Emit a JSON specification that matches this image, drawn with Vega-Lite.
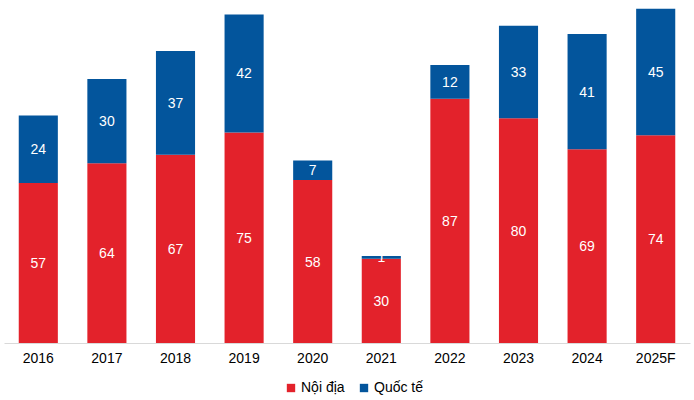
{
  "$schema": "https://vega.github.io/schema/vega-lite/v6.json",
  "width": 686,
  "height": 337,
  "autosize": {"type": "none"},
  "padding": {"left": 4, "top": 6, "right": 4, "bottom": 57},
  "background": "white",
  "config": {
    "view": {"stroke": null},
    "font": "Liberation Sans"
  },
  "data": {
    "values": [
      {"year": "2016", "type": "Nội địa", "value": 57},
      {"year": "2016", "type": "Quốc tế", "value": 24},
      {"year": "2017", "type": "Nội địa", "value": 64},
      {"year": "2017", "type": "Quốc tế", "value": 30},
      {"year": "2018", "type": "Nội địa", "value": 67},
      {"year": "2018", "type": "Quốc tế", "value": 37},
      {"year": "2019", "type": "Nội địa", "value": 75},
      {"year": "2019", "type": "Quốc tế", "value": 42},
      {"year": "2020", "type": "Nội địa", "value": 58},
      {"year": "2020", "type": "Quốc tế", "value": 7},
      {"year": "2021", "type": "Nội địa", "value": 30},
      {"year": "2021", "type": "Quốc tế", "value": 1},
      {"year": "2022", "type": "Nội địa", "value": 87},
      {"year": "2022", "type": "Quốc tế", "value": 12},
      {"year": "2023", "type": "Nội địa", "value": 80},
      {"year": "2023", "type": "Quốc tế", "value": 33},
      {"year": "2024", "type": "Nội địa", "value": 69},
      {"year": "2024", "type": "Quốc tế", "value": 41},
      {"year": "2025F", "type": "Nội địa", "value": 74},
      {"year": "2025F", "type": "Quốc tế", "value": 45}
    ]
  },
  "encoding": {
    "x": {
      "field": "year",
      "type": "nominal",
      "scale": {"paddingInner": 0.43, "paddingOuter": 0.215},
      "axis": {
        "title": null,
        "labelAngle": 0,
        "labelFontSize": 14,
        "labelColor": "#000000",
        "labelPadding": 8,
        "ticks": false,
        "domainColor": "#D9D9D9",
        "domainWidth": 1
      }
    }
  },
  "layer": [
    {
      "mark": {"type": "bar"},
      "encoding": {
        "y": {
          "field": "value",
          "type": "quantitative",
          "stack": "zero",
          "scale": {"domain": [0, 120], "nice": false},
          "axis": null
        },
        "order": {"field": "type", "sort": "ascending"},
        "color": {
          "field": "type",
          "type": "nominal",
          "scale": {"domain": ["Nội địa", "Quốc tế"], "range": ["#E3222B", "#03559C"]},
          "legend": {
            "title": null,
            "orient": "none",
            "legendX": 280,
            "legendY": 375,
            "direction": "horizontal",
            "symbolType": "square",
            "symbolSize": 70,
            "symbolStrokeWidth": 0,
            "labelFontSize": 14,
            "labelOffset": 3,
            "labelColor": "#000000",
            "columnPadding": 12
          }
        }
      }
    },
    {
      "transform": [
        {"stack": "value", "groupby": ["year"], "sort": [{"field": "type", "order": "ascending"}], "as": ["v0", "v1"]},
        {"calculate": "(datum.v0 + datum.v1) / 2", "as": "mid"}
      ],
      "mark": {"type": "text", "color": "white", "fontSize": 14, "baseline": "middle", "dy": 1},
      "encoding": {
        "y": {"field": "mid", "type": "quantitative", "scale": {"domain": [0, 120], "nice": false}},
        "text": {"field": "value", "type": "quantitative"}
      }
    }
  ]
}
